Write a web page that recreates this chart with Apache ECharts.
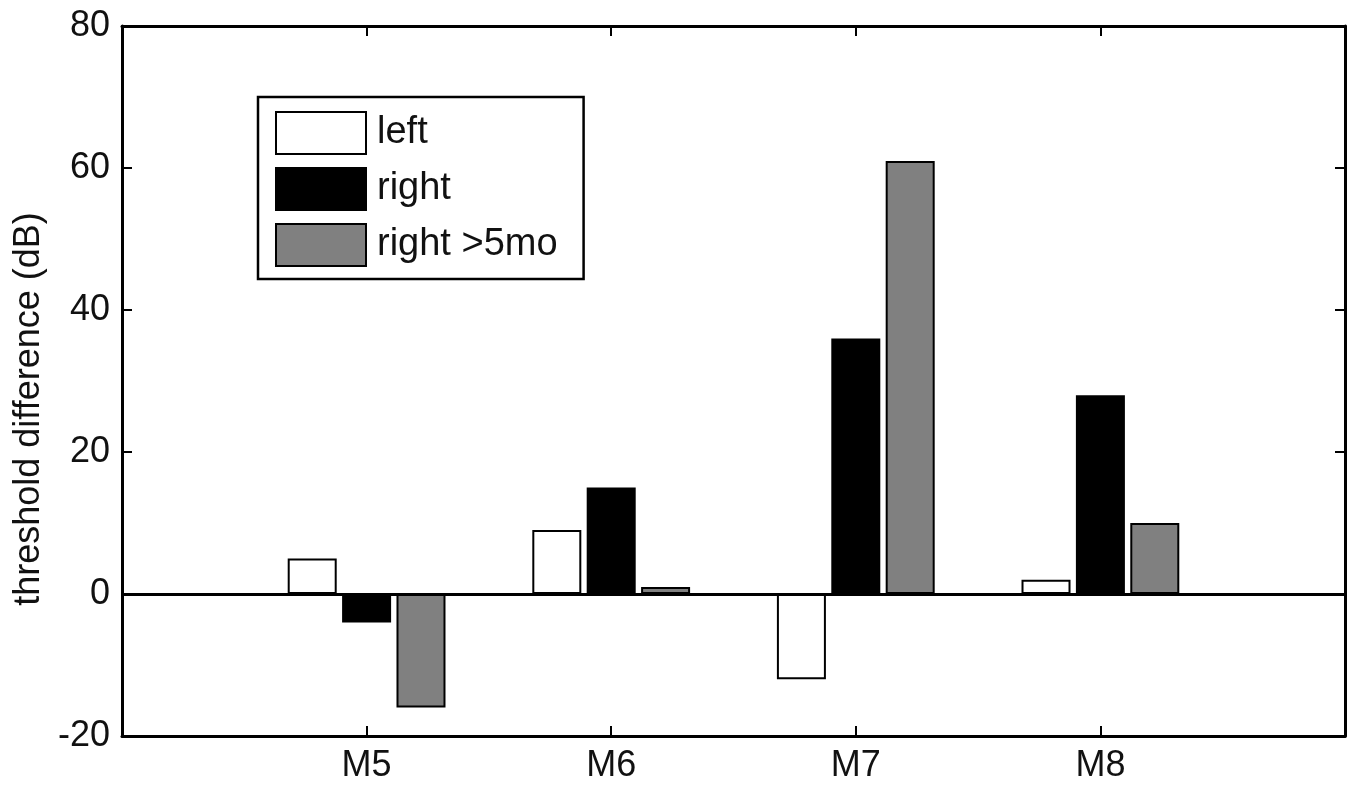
<!DOCTYPE html>
<html>
<head>
<meta charset="utf-8">
<script src="https://cdn.jsdelivr.net/npm/echarts@6/dist/echarts.min.js"></script>
<style>
html, body { margin: 0; padding: 0; background: #fff; }
#main { width: 1355px; height: 789px; }
</style>
</head>
<body>
<div id="main"></div>
<script>
// 数据
var categories = ['', 'M5', 'M6', 'M7', 'M8', ''];
var leftData = ['-', 5, 9, -12, 2, '-'];
var rightData = ['-', -4, 15, 36, 28, '-'];
var right5moData = ['-', -16, 1, 61, 10, '-'];
var yTicks = [-20, 0, 20, 40, 60, 80];

var chart = echarts.init(document.getElementById('main'));
var fontName = 'Liberation Sans';

function barStyle(color) {
    return {
        color: color,
        borderColor: '#000',
        borderWidth: 2
    };
}

var option = {
    animation: false,
    backgroundColor: '#fff',
    textStyle: { fontFamily: fontName },
    legend: {
        orient: 'vertical',
        left: 258,
        top: 97,
        padding: [14, 26, 12, 17],
        itemWidth: 90,
        itemHeight: 42,
        itemGap: 12,
        borderColor: '#000',
        borderWidth: 2.5,
        backgroundColor: '#fff',
        icon: 'rect',
        textStyle: { fontSize: 38, color: '#111', fontFamily: fontName, padding: [0, 0, 0, 6] },
        data: ['left', 'right', 'right >5mo']
    },
    grid: {
        left: 122,
        right: 10,
        top: 26,
        bottom: 53
    },
    xAxis: [
        {
            type: 'category',
            data: categories,
            boundaryGap: false,
            position: 'bottom',
            axisLine: { onZero: false, lineStyle: { color: '#000', width: 3 } },
            axisTick: {
                inside: true, length: 10,
                lineStyle: { color: '#000', width: 2 },
                interval: function (i, v) { return v !== ''; }
            },
            axisLabel: { fontSize: 36, color: '#111', margin: 12, interval: 0 },
            splitLine: { show: false }
        },
        {
            type: 'category',
            data: categories,
            boundaryGap: false,
            position: 'top',
            axisLine: { onZero: false, lineStyle: { color: '#000', width: 3 } },
            axisTick: {
                inside: true, length: 10,
                lineStyle: { color: '#000', width: 2 },
                interval: function (i, v) { return v !== ''; }
            },
            axisLabel: { show: false },
            splitLine: { show: false }
        }
    ],
    yAxis: [
        {
            type: 'value',
            min: yTicks[0],
            max: yTicks[yTicks.length - 1],
            interval: 20,
            position: 'left',
            name: 'threshold difference (dB)',
            nameLocation: 'middle',
            nameGap: 70,
            nameTextStyle: { fontSize: 36, color: '#111', fontFamily: fontName, padding: [0, 56, 0, 0] },
            axisLine: { show: true, onZero: false, lineStyle: { color: '#000', width: 3 } },
            axisTick: { show: true, inside: true, length: 10, lineStyle: { color: '#000', width: 2 } },
            axisLabel: { fontSize: 36, color: '#111', margin: 12 },
            splitLine: { show: false }
        },
        {
            type: 'value',
            min: yTicks[0],
            max: yTicks[yTicks.length - 1],
            interval: 20,
            position: 'right',
            axisLine: { show: true, onZero: false, lineStyle: { color: '#000', width: 3 } },
            axisTick: { show: true, inside: true, length: 10, lineStyle: { color: '#000', width: 2 } },
            axisLabel: { show: false },
            splitLine: { show: false }
        }
    ],
    series: [
        {
            name: 'left',
            type: 'bar',
            data: leftData,
            barWidth: 49,
            barGap: '11%',
            itemStyle: barStyle('#fff'),
            markLine: {
                silent: true,
                symbol: 'none',
                label: { show: false },
                lineStyle: { color: '#000', width: 3, type: 'solid' },
                data: [{ yAxis: 0 }]
            }
        },
        {
            name: 'right',
            type: 'bar',
            data: rightData,
            barWidth: 49,
            barGap: '11%',
            itemStyle: barStyle('#000')
        },
        {
            name: 'right >5mo',
            type: 'bar',
            data: right5moData,
            barWidth: 49,
            barGap: '11%',
            itemStyle: barStyle('#808080')
        }
    ]
};

chart.setOption(option);
</script>
</body>
</html>
